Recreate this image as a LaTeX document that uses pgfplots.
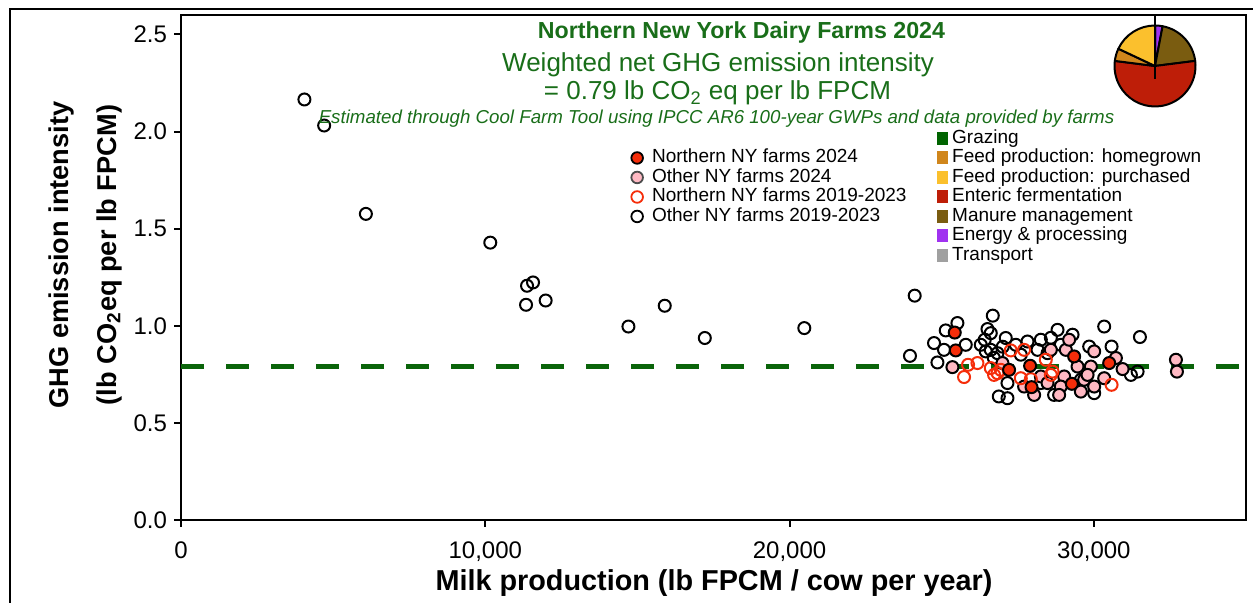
\documentclass[border=0pt]{standalone}
\usepackage{pgfplots}
\pgfplotsset{compat=1.18}
\usepackage{fontspec}
\setmainfont{Liberation Sans}
\definecolor{tgreen}{RGB}{25,110,25}
\definecolor{lgreen}{RGB}{10,100,10}
\definecolor{cGraz}{RGB}{0,100,0}
\definecolor{cHome}{RGB}{208,134,28}
\definecolor{cPurch}{RGB}{251,192,45}
\definecolor{cEnt}{RGB}{190,30,8}
\definecolor{cMan}{RGB}{122,92,16}
\definecolor{cEn}{RGB}{160,50,240}
\definecolor{cTrans}{RGB}{160,160,160}
\definecolor{nnyred}{RGB}{245,45,10}
\definecolor{opink}{RGB}{255,185,195}

% pie shares (percent), clockwise from 12 o'clock
\def\pEn{3}\def\pMan{20}\def\pEnt{54}\def\pHome{5}\def\pPurch{18}

\begin{document}
\begin{tikzpicture}[x=1pt,y=1pt]
\useasboundingbox (0,0) rectangle (626.5,301.5);
\draw[line width=1pt] (5,0) -- (5,297) -- (626.5,297);

\begin{axis}[
  at={(90.5pt,41.5pt)}, anchor=south west,
  scale only axis, width=532.5pt, height=252.5pt,
  xmin=0, xmax=35000, ymin=0, ymax=2.6,
  axis line style={line width=1pt},
  xtick={0,10000,20000,30000},
  ytick={0,0.5,1,1.5,2,2.5},
  scaled x ticks=false,
  tick align=outside, tick pos=left,
  major tick length=3.5pt,
  tick style={line width=1pt, black},
  /pgf/number format/assume math mode=true,
  xticklabel style={font=\fontsize{12}{12}\selectfont, yshift=-4pt, /pgf/number format/1000 sep={,}},
  yticklabel style={font=\fontsize{12}{12}\selectfont, /pgf/number format/fixed, /pgf/number format/fixed zerofill, /pgf/number format/precision=1},
  legend style={draw=none, fill=none, at={(0.4225,0.737)}, anchor=north west,
    font=\fontsize{9.5}{9.5}\selectfont, row sep=0pt, inner sep=0pt,
    nodes={inner sep=0.25pt, text height=7pt, text depth=2.25pt}, column sep=4.3pt},
  legend cell align=left,
  legend image code/.code={\draw[#1] plot coordinates {(3pt,0pt)};},
]
\addlegendimage{only marks, mark=*, mark size=2.9pt, line width=0.9pt, mark options={draw=black, fill=nnyred}}
\addlegendimage{only marks, mark=*, mark size=2.9pt, line width=0.9pt, mark options={draw=black!70, fill=opink}}
\addlegendimage{only marks, mark=o, mark size=2.9pt, line width=0.9pt, mark options={draw=nnyred}}
\addlegendimage{only marks, mark=o, mark size=2.9pt, line width=0.9pt, mark options={draw=black}}
\legend{Northern NY farms 2024, Other NY farms 2024, Northern NY farms 2019-2023, Other NY farms 2019-2023}

\addplot[lgreen, line width=2.5pt, dash pattern=on 11.3pt off 11.2pt, forget plot] coordinates {(0,0.79) (35000,0.79)};

% Other NY farms 2019-2023
\addplot[only marks, mark=o, mark size=3pt, line width=1pt, black, forget plot] coordinates {
(4056,2.165) (4704,2.031) (6076,1.576) (10164,1.428) (11372,1.206) (11569,1.223)
(11339,1.108) (11984,1.130) (14704,0.996) (15898,1.103) (17214,0.937) (20484,0.988)
(24112,1.155) (23957,0.845) (25516,1.014) (25132,0.976) (25790,0.902) (24747,0.911)
(25076,0.876) (24859,0.811) (26678,1.052) (26504,0.983) (26612,0.962) (26612,0.876)
(26833,0.859) (26447,0.868) (26876,0.636) (27161,0.627) (27105,0.937) (27819,0.919)
(28257,0.928) (28806,0.979) (29300,0.954) (30339,0.996) (27007,0.892) (28149,0.876)
(28478,0.859) (29846,0.893) (27161,0.705) (28694,0.644) (28257,0.705) (30010,0.653)
(29573,0.722) (31514,0.942) (30582,0.893) (31217,0.747) (31437,0.764)
(26283,0.902) (26414,0.928) (26711,0.835) (27434,0.902) (27599,0.851) (28914,0.902)
(28586,0.938)
};
% Other NY farms 2024
\addplot[only marks, mark=*, mark size=3pt, line width=1pt, mark options={draw=black, fill=opink}, forget plot] coordinates {
(25352,0.787) (29079,0.876) (29187,0.928) (29464,0.790) (29902,0.790) (29024,0.739)
(29681,0.722) (28914,0.687) (28859,0.644) (28257,0.739) (28037,0.644) (27708,0.687)
(28478,0.705) (30010,0.868) (28586,0.876) (30724,0.834) (30944,0.777) (30339,0.730)
(30010,0.687) (32697,0.825) (32730,0.764) (26997,0.808) (29573,0.661) (29793,0.747)
};
% Northern NY farms 2019-2023
\addplot[only marks, mark=o, mark size=3pt, line width=1pt, nnyred, forget plot] coordinates {
(25734,0.736) (25865,0.799) (26174,0.808) (26720,0.747) (26941,0.773) (27270,0.873)
(27708,0.876) (26833,0.756) (27599,0.730) (27928,0.725) (28421,0.825) (28586,0.747)
(28642,0.764) (26612,0.782) (30582,0.696)
};
% Northern NY farms 2024
\addplot[only marks, mark=*, mark size=3pt, line width=1pt, mark options={draw=black, fill=nnyred}, forget plot] coordinates {
(25428,0.965) (25461,0.873) (27214,0.773) (27905,0.794) (27951,0.684) (29352,0.842)
(29277,0.701) (30503,0.808)
};
\end{axis}

% category legend (second, hidden axis)
\begin{axis}[
  at={(90.5pt,41.5pt)}, anchor=south west,
  scale only axis, width=532.5pt, height=252.5pt,
  hide axis, xmin=0, xmax=1, ymin=0, ymax=1,
  legend style={draw=none, fill=none, at={(0.709,0.776)}, anchor=north west,
    font=\fontsize{9.5}{9.5}\selectfont, row sep=0pt, inner sep=0pt,
    nodes={inner sep=0.25pt, text height=7pt, text depth=2.25pt}, column sep=2pt},
  legend cell align=left,
  legend image code/.code={\fill[#1] (0pt,-3.3pt) rectangle (5.6pt,3.3pt);},
]
\addlegendimage{fill=cGraz, draw=none}
\addlegendimage{fill=cHome, draw=none}
\addlegendimage{fill=cPurch, draw=none}
\addlegendimage{fill=cEnt, draw=none}
\addlegendimage{fill=cMan, draw=none}
\addlegendimage{fill=cEn, draw=none}
\addlegendimage{fill=cTrans, draw=none}
\legend{Grazing, Feed production: homegrown, Feed production: purchased, Enteric fermentation, Manure management, Energy \& processing, Transport}
\end{axis}

% pie
\pgfmathsetmacro{\aA}{90}
\pgfmathsetmacro{\aB}{\aA-3.6*\pEn}
\pgfmathsetmacro{\aC}{\aB-3.6*\pMan}
\pgfmathsetmacro{\aD}{\aC-3.6*\pEnt}
\pgfmathsetmacro{\aE}{\aD-3.6*\pHome}
\pgfmathsetmacro{\aF}{\aE-3.6*\pPurch}
\begin{scope}[shift={(577.5,268.5)}, line width=1pt, line join=round]
\def\R{20.25}
\filldraw[fill=cEn] (0,0) -- (\aA:\R) arc[start angle=\aA, end angle=\aB, radius=\R] -- cycle;
\filldraw[fill=cMan] (0,0) -- (\aB:\R) arc[start angle=\aB, end angle=\aC, radius=\R] -- cycle;
\filldraw[fill=cEnt] (0,0) -- (\aC:\R) arc[start angle=\aC, end angle=\aD, radius=\R] -- cycle;
\filldraw[fill=cHome] (0,0) -- (\aD:\R) arc[start angle=\aD, end angle=\aE, radius=\R] -- cycle;
\filldraw[fill=cPurch] (0,0) -- (\aE:\R) arc[start angle=\aE, end angle=\aF, radius=\R] -- cycle;
\draw (0,0) -- (0,25);
\draw (0,0) -- (0,-6.5);
\end{scope}

% titles
\node[anchor=base, text=tgreen, font=\bfseries\fontsize{11.6}{12}\selectfont] at (370.75,282.4) {Northern New York Dairy Farms 2024};
\node[anchor=base, text=tgreen, font=\fontsize{13}{13}\selectfont] at (359,265.7) {Weighted net GHG emission intensity};
\node[anchor=base, text=tgreen, font=\fontsize{13}{13}\selectfont] at (358.75,251.5) {= 0.79 lb CO\textsubscript{2} eq per lb FPCM};
\node[anchor=base, text=tgreen, font=\itshape\fontsize{9.35}{9.35}\selectfont] at (358.25,239.5) {Estimated through Cool Farm Tool using IPCC AR6 100-year GWPs and data provided by farms};

% axis labels
\node[rotate=90, anchor=base, font=\bfseries\fontsize{13.6}{14}\selectfont] at (34,174) {GHG emission intensity};
\node[rotate=90, anchor=base, font=\bfseries\fontsize{13.6}{14}\selectfont] at (58,174) {(lb CO\textsubscript{2}eq per lb FPCM)};
\node[anchor=base, font=\bfseries\fontsize{14.4}{14}\selectfont] at (357,6) {Milk production (lb FPCM / cow per year)};
\end{tikzpicture}
\end{document}
